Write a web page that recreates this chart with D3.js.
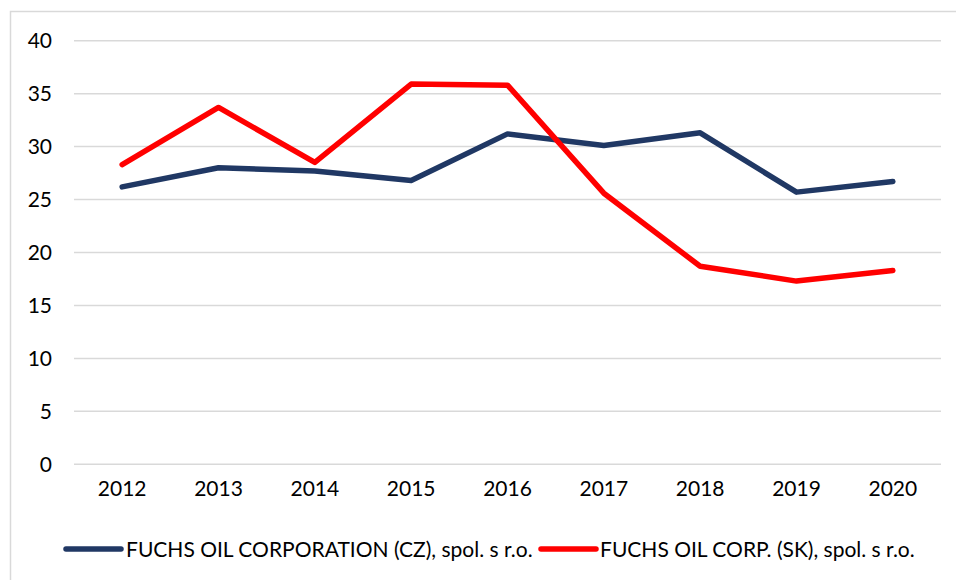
<!DOCTYPE html>
<html>
<head>
<meta charset="utf-8">
<script src="https://cdn.jsdelivr.net/npm/d3@7"></script>
<style>
  html, body { margin: 0; padding: 0; background: #fff; }
  svg { display: block; }
  text { font-family: Lato, "Open Sans", sans-serif; fill: #000; }
</style>
</head>
<body>
<svg id="chart" width="956" height="580"></svg>
<script>
const years = ["2012","2013","2014","2015","2016","2017","2018","2019","2020"];
const czValues = [26.2, 28.0, 27.7, 26.8, 31.2, 30.1, 31.3, 25.7, 26.7];
const skValues = [28.3, 33.7, 28.5, 35.9, 35.8, 25.6, 18.7, 17.3, 18.3];
const yTicks = [0, 5, 10, 15, 20, 25, 30, 35, 40];
const seriesNames = ["FUCHS OIL CORPORATION (CZ), spol. s r.o.", "FUCHS OIL CORP. (SK), spol. s r.o."];
const seriesColors = ["#203864", "#FF0000"];

const svg = d3.select("#chart");
const W = 956, H = 580;
const plot = { left: 74, right: 941, top: 40.7, bottom: 464.3 };

// outer border (partially visible)
svg.append("path")
  .attr("d", `M10.5,${H + 2} V11.5 H${W + 2}`)
  .attr("fill", "none").attr("stroke", "#d9d9d9").attr("stroke-width", 1.5);

const x = d3.scaleBand().domain(years).range([plot.left, plot.right]);
const y = d3.scaleLinear().domain([0, 40]).range([plot.bottom, plot.top]);

// gridlines
svg.append("g")
  .selectAll("line").data(yTicks).join("line")
  .attr("x1", plot.left).attr("x2", plot.right)
  .attr("y1", d => y(d)).attr("y2", d => y(d))
  .attr("stroke", "#d9d9d9").attr("stroke-width", 1.5);

// y axis
const yAxis = svg.append("g")
  .attr("transform", `translate(${plot.left},0)`)
  .call(d3.axisLeft(y).tickValues(yTicks).tickSize(0).tickPadding(22));
yAxis.select(".domain").remove();
yAxis.selectAll("text").attr("font-size", 21).style("font-family", "Lato, 'Open Sans', sans-serif").attr("fill", "#000");

// x axis
const xAxis = svg.append("g")
  .attr("transform", `translate(0,${plot.bottom})`)
  .call(d3.axisBottom(x).tickSize(0).tickPadding(17));
xAxis.select(".domain").remove();
xAxis.selectAll("text").attr("font-size", 21).style("font-family", "Lato, 'Open Sans', sans-serif").attr("fill", "#000");

// lines
const line = d3.line()
  .x((d, i) => x(years[i]) + x.bandwidth() / 2)
  .y(d => y(d));

[czValues, skValues].forEach((vals, k) => {
  svg.append("path")
    .datum(vals)
    .attr("d", line)
    .attr("fill", "none")
    .attr("stroke", seriesColors[k])
    .attr("stroke-width", 5.5)
    .attr("stroke-linejoin", "round")
    .attr("stroke-linecap", "round");
});

// legend
const legendY = 549;
const legendItems = [
  { x0: 66, x1: 121, tx: 126 },
  { x0: 541, x1: 596, tx: 600 }
];
legendItems.forEach((it, k) => {
  svg.append("line")
    .attr("x1", it.x0).attr("x2", it.x1)
    .attr("y1", legendY).attr("y2", legendY)
    .attr("stroke", seriesColors[k]).attr("stroke-width", 5.5)
    .attr("stroke-linecap", "round");
  svg.append("text")
    .attr("x", it.tx).attr("y", legendY)
    .attr("dy", "0.36em")
    .attr("font-size", 21)
    .text(seriesNames[k]);
});
</script>
</body>
</html>
